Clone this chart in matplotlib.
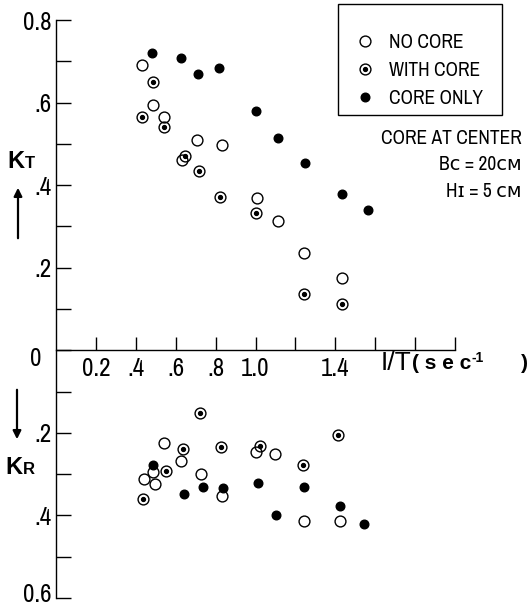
import matplotlib

matplotlib.use("Agg")

import matplotlib.pyplot as plt
from matplotlib import font_manager
from matplotlib.lines import Line2D
from matplotlib.patches import Rectangle


W, H = 531, 607

# K_T values (upper half of the chart)
NO_CORE_T_X = [0.431, 0.486, 0.541, 0.707, 0.832, 0.632, 1.008, 1.114, 1.243, 1.432]
NO_CORE_T_K = [0.691, 0.594, 0.565, 0.509, 0.497, 0.461, 0.368, 0.313, 0.235, 0.174]

WITH_CORE_T_X = [0.486, 0.431, 0.541, 0.647, 0.717, 0.822, 1.003, 1.243, 1.432]
WITH_CORE_T_K = [0.650, 0.566, 0.542, 0.470, 0.434, 0.371, 0.332, 0.136, 0.112]

CORE_ONLY_T_X = [0.481, 0.627, 0.712, 0.817, 1.003, 1.114, 1.248, 1.434, 1.562]
CORE_ONLY_T_K = [0.720, 0.708, 0.669, 0.684, 0.580, 0.513, 0.453, 0.379, 0.341]

# K_R values (lower half, drawn downward)
NO_CORE_R_X = [0.541, 0.627, 1.003, 0.486, 0.441, 0.496, 0.727, 0.832, 1.098, 1.243, 1.424]
NO_CORE_R_K = [0.225, 0.268, 0.246, 0.295, 0.312, 0.324, 0.300, 0.353, 0.251, 0.413, 0.413]

WITH_CORE_R_X = [0.722, 0.637, 0.827, 1.023, 0.551, 0.436, 1.238, 1.414]
WITH_CORE_R_K = [0.152, 0.239, 0.234, 0.232, 0.292, 0.360, 0.278, 0.205]

CORE_ONLY_R_X = [0.486, 0.642, 0.737, 0.837, 1.013, 1.243, 1.103, 1.424, 1.544]
CORE_ONLY_R_K = [0.278, 0.348, 0.331, 0.333, 0.321, 0.331, 0.399, 0.377, 0.421]

Y_TICKS = [-0.6, -0.5, -0.4, -0.3, -0.2, -0.1, 0.0, 0.1, 0.2, 0.3, 0.4, 0.5, 0.6, 0.7, 0.8]
Y_TICK_LABELS = ["", "", ".4", "", ".2", "", "", "", ".2", "", ".4", "", ".6", "", "0.8"]
ZERO_LABEL = "0"
BOTTOM_LABEL = "0.6"

X_TICKS = [0.2, 0.4, 0.6, 0.8, 1.0, 1.2, 1.4, 1.6, 1.8, 2.0]
X_TICK_LABELS = ["0.2", ".4", ".6", ".8", "1.0", "", "1.4", "", "", ""]

LEGEND_LABELS = ["NO CORE", "WITH CORE", "CORE ONLY"]

NOTE_LINES = ["CORE AT CENTER", "B\u1d04 = 20\u1d04\u1d0d", "H\u026a = 5 \u1d04\u1d0d"]

BOLD = ["Liberation Sans", "DejaVu Sans"]


def narrow_font():

    # look for any narrow / condensed face, else fall back to Liberation Sans
    for font in font_manager.fontManager.ttflist:
        if "Narrow" in font.name and font.weight in (400, "normal", "regular"):
            return [font.name, "DejaVu Sans"], "normal", 1.0
    for font in font_manager.fontManager.ttflist:
        if font.stretch in ("condensed", "semi-condensed") and font.style == "normal":
            return [font.name, "DejaVu Sans"], font.stretch, 1.0
    for font in font_manager.fontManager.ttflist:
        if "Condensed" in font.name and font.style == "normal":
            return [font.name, "DejaVu Sans"], "normal", 1.0
    return ["Liberation Sans", "DejaVu Sans"], "normal", 0.88


NARROW, STRETCH, SCALE = narrow_font()


def fig_xy(px, py):

    return px / W, 1 - py / H


def open_marks(ax, x, y):

    ax.plot(
        x,
        y,
        linestyle="none",
        marker="o",
        markersize=7.8,
        markerfacecolor="none",
        markeredgecolor="black",
        markeredgewidth=1.0,
        zorder=3,
    )


def dot_marks(ax, x, y, size):

    ax.plot(
        x,
        y,
        linestyle="none",
        marker="o",
        markersize=size,
        color="black",
        zorder=4,
    )


def main():

    plt.rcParams["font.family"] = NARROW
    plt.rcParams["font.stretch"] = STRETCH

    fig = plt.figure(figsize=(W / 100, H / 100), dpi=100)

    x_left, x_right = 56, 528
    y_top, y_bottom = 20, 598
    ax = fig.add_axes([
        x_left / W,
        1 - y_bottom / H,
        (x_right - x_left) / W,
        (y_bottom - y_top) / H,
    ])

    ax.set_xlim(0, (x_right - x_left) / 199.5)
    ax.set_ylim(-0.6, 0.8)

    # upper half: K_T
    open_marks(ax, NO_CORE_T_X, NO_CORE_T_K)
    open_marks(ax, WITH_CORE_T_X, WITH_CORE_T_K)
    dot_marks(ax, WITH_CORE_T_X, WITH_CORE_T_K, 2.8)
    dot_marks(ax, CORE_ONLY_T_X, CORE_ONLY_T_K, 6.2)

    # lower half: K_R, measured downward
    open_marks(ax, NO_CORE_R_X, [-k for k in NO_CORE_R_K])
    open_marks(ax, WITH_CORE_R_X, [-k for k in WITH_CORE_R_K])
    dot_marks(ax, WITH_CORE_R_X, [-k for k in WITH_CORE_R_K], 2.8)
    dot_marks(ax, CORE_ONLY_R_X, [-k for k in CORE_ONLY_R_K], 6.2)

    for side in ["top", "right"]:
        ax.spines[side].set_visible(False)

    ax.spines["bottom"].set_position(("data", 0))
    ax.spines["bottom"].set_bounds(0, 2.0)
    ax.spines["left"].set_bounds(-0.6, 0.8)
    ax.spines["bottom"].set_linewidth(1.0)
    ax.spines["left"].set_linewidth(1.0)

    ax.set_yticks(Y_TICKS)
    ax.set_yticklabels(Y_TICK_LABELS)
    ax.set_xticks(X_TICKS)
    ax.set_xticklabels(X_TICK_LABELS)

    tick_size = 18 * SCALE
    ax.tick_params(axis="y", direction="in", length=11, width=1.0, pad=3, labelsize=tick_size)
    ax.tick_params(axis="x", direction="in", length=9.5, width=1.0, pad=5, labelsize=tick_size)

    # the zero of the vertical scale sits a little left and below the axis
    fig.text(*fig_xy(36, 358), ZERO_LABEL, ha="center", va="center",
             fontsize=tick_size, family=NARROW, stretch=STRETCH)

    # lowest label sits right on the lower edge
    fig.text(*fig_xy(52, 595), BOTTOM_LABEL, ha="right", va="center",
             fontsize=tick_size, family=NARROW, stretch=STRETCH)

    # legend with a hand-placed square frame
    handles = [
        Line2D([], [], linestyle="none", marker="o", markersize=7.8,
               markerfacecolor="none", markeredgecolor="black", markeredgewidth=1.0),
        (
            Line2D([], [], linestyle="none", marker="o", markersize=7.8,
                   markerfacecolor="none", markeredgecolor="black", markeredgewidth=1.0),
            Line2D([], [], linestyle="none", marker="o", markersize=2.8, color="black"),
        ),
        Line2D([], [], linestyle="none", marker="o", markersize=6.2, color="black"),
    ]

    legend_size = 14 * SCALE
    ax.legend(
        handles,
        LEGEND_LABELS,
        loc="upper left",
        bbox_to_anchor=fig_xy(355, 33),
        bbox_transform=fig.transFigure,
        frameon=False,
        borderpad=0,
        borderaxespad=0,
        handlelength=1.0,
        handletextpad=0.75,
        labelspacing=0.45,
        prop={"family": NARROW, "stretch": STRETCH, "size": legend_size},
    )

    fig.add_artist(Rectangle(
        fig_xy(338, 115),
        (502 - 338) / W,
        (115 - 4) / H,
        transform=fig.transFigure,
        fill=False,
        edgecolor="black",
        linewidth=1.0,
    ))

    # condition notes
    for i, line in enumerate(NOTE_LINES):
        fig.text(
            *fig_xy(522, 138 + 27 * i),
            line,
            ha="right",
            va="center",
            fontsize=legend_size,
            family=NARROW,
            stretch=STRETCH,
        )

    # axis names
    fig.text(*fig_xy(7, 168), "K", ha="left", va="baseline",
             fontsize=17, fontweight="bold", family=BOLD)
    fig.text(*fig_xy(25, 168), "T", ha="left", va="baseline",
             fontsize=12, fontweight="bold", family=BOLD)

    fig.text(*fig_xy(5, 474), "K", ha="left", va="baseline",
             fontsize=17, fontweight="bold", family=BOLD)
    fig.text(*fig_xy(23, 474), "R", ha="left", va="baseline",
             fontsize=12, fontweight="bold", family=BOLD)

    fig.text(*fig_xy(381, 370), "I/T", ha="left", va="baseline",
             fontsize=19, family=BOLD)
    fig.text(*fig_xy(412, 369), "( s e c", ha="left", va="baseline",
             fontsize=15, fontweight="bold", family=BOLD)
    fig.text(*fig_xy(472, 362), "-1", ha="left", va="baseline",
             fontsize=10, fontweight="bold", family=BOLD)
    fig.text(*fig_xy(521, 369), ")", ha="left", va="baseline",
             fontsize=15, fontweight="bold", family=BOLD)

    ax.annotate(
        "",
        xy=fig_xy(18, 185),
        xytext=fig_xy(18, 241),
        xycoords="figure fraction",
        textcoords="figure fraction",
        arrowprops=dict(arrowstyle="-|>", color="black", lw=1.6, mutation_scale=12),
    )
    ax.annotate(
        "",
        xy=fig_xy(17, 442),
        xytext=fig_xy(17, 387),
        xycoords="figure fraction",
        textcoords="figure fraction",
        arrowprops=dict(arrowstyle="-|>", color="black", lw=1.6, mutation_scale=12),
    )

    fig.savefig("out.png", dpi=100)


if __name__ == "__main__":

    main()
